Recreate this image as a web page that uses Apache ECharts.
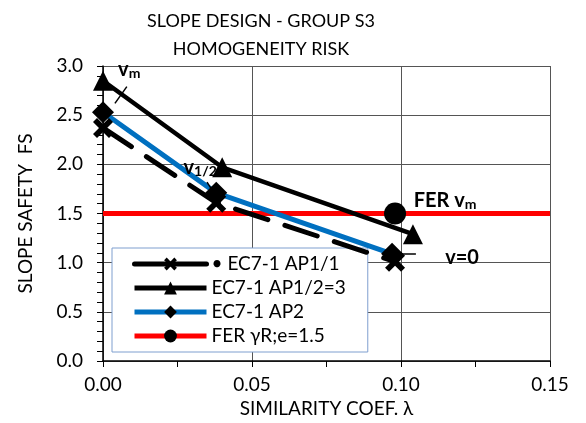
<!DOCTYPE html>
<html><head><meta charset="utf-8">
<script src="https://cdn.jsdelivr.net/npm/echarts@6/dist/echarts.min.js"></script>
<style>html,body{margin:0;padding:0;background:#fff}#c{width:586px;height:423px}</style>
</head><body><div id="c"></div>
<script>
var titleText = ['SLOPE DESIGN - GROUP S3', 'HOMOGENEITY RISK'];
var xName = 'SIMILARITY COEF. λ';
var yName = 'SLOPE SAFETY  FS';
var seriesNames = ['• EC7-1 AP1/1', 'EC7-1 AP1/2=3', 'EC7-1 AP2', 'FER γR;e=1.5'];
var ap11 = [[0, 2.37], [0.038, 1.61], [0.098, 1.01]];
var ap12 = [[0, 2.85], [0.040, 1.97], [0.104, 1.29]];
var ap2 = [[0, 2.53], [0.038, 1.71], [0.097, 1.09]];
var ferLine = [[0, 1.5], [0.098, 1.5], [0.15, 1.5]];
var ferMarkIndex = 1;
var xTicks = {min: 0, max: 0.15, interval: 0.05};
var yTicks = {min: 0, max: 3, interval: 0.5};
var labels = [
  {coord: [0.0088, 2.96], text: '{v|v}{s|m}'},
  {coord: [0.0326, 1.97], text: '{v|v}{s|1/2}'},
  {coord: [0.1148, 1.63], text: '{v|FER v}{s|m}'},
  {coord: [0.1205, 1.05], text: '{v|v=0}'}
];
var leaders = [
  [[0.004, 2.62], [0.008, 2.79]],
  [[0.0349, 1.82], [0.0372, 1.71]],
  [[0.099, 1.09], [0.105, 1.09]]
];

var FONT = 'Lato';
var crossPath = 'path://M2,0 L5,3 L8,0 L10,2 L7,5 L10,8 L8,10 L5,7 L2,10 L0,8 L3,5 L0,2 Z';
var chart = echarts.init(document.getElementById('c'));
chart.setOption({
  animation: false,
  textStyle: {fontFamily: FONT},
  title: {text: titleText.join('\n'), left: 256, top: 2, textAlign: 'center',
    textStyle: {fontFamily: FONT, fontSize: 18, fontWeight: 'normal', color: '#000', lineHeight: 28}},
  grid: {left: 103, right: 36, top: 66, bottom: 62},
  legend: {
    orient: 'vertical', left: 112, top: 248, width: 258,
    backgroundColor: '#fff', borderColor: '#7f9fcf', borderWidth: 1,
    padding: [6, 22, 6, 20], itemWidth: 72, itemHeight: 16, itemGap: 4,
    textStyle: {fontFamily: FONT, fontSize: 19, color: '#000', lineHeight: 20},
    data: [
      {name: seriesNames[0], lineStyle: {type: 'solid', width: 5}},
      {name: seriesNames[1], lineStyle: {width: 5}},
      {name: seriesNames[2], lineStyle: {width: 5}},
      {name: seriesNames[3], lineStyle: {width: 5}}
    ]
  },
  xAxis: {
    type: 'value', min: xTicks.min, max: xTicks.max, interval: xTicks.interval,
    name: xName, nameLocation: 'middle', nameGap: 37,
    nameTextStyle: {fontFamily: FONT, fontSize: 19, color: '#000'},
    axisLine: {lineStyle: {color: '#000', width: 1.5}},
    axisTick: {show: true, length: 6, lineStyle: {color: '#000'}},
    minorTick: {show: true, splitNumber: 2, length: 6, lineStyle: {color: '#000'}},
    axisLabel: {fontSize: 19, color: '#000', margin: 14, formatter: function (v) { return v.toFixed(2); }},
    splitLine: {show: true, lineStyle: {color: '#555', width: 1}}
  },
  yAxis: {
    type: 'value', min: yTicks.min, max: yTicks.max, interval: yTicks.interval,
    name: yName, nameLocation: 'middle', nameGap: 68, nameRotate: 90,
    nameTextStyle: {fontFamily: FONT, fontSize: 19, color: '#000'},
    axisLine: {show: true, lineStyle: {color: '#000', width: 1.5}},
    axisTick: {show: true, length: 6, lineStyle: {color: '#000'}},
    minorTick: {show: true, splitNumber: 5, length: 6, lineStyle: {color: '#000'}},
    axisLabel: {fontSize: 19, color: '#000', margin: 20, formatter: function (v) { return v.toFixed(1); }},
    splitLine: {show: true, lineStyle: {color: '#555', width: 1}}
  },
  series: [
    {name: seriesNames[3], type: 'line', data: ferLine.map(function (p, i) {
        return {value: p, symbolSize: i === ferMarkIndex ? 22 : 0};
      }),
      symbol: 'circle', symbolSize: 22, showAllSymbol: true, z: 3,
      lineStyle: {color: '#ff0000', width: 5}, itemStyle: {color: '#000'}, color: '#ff0000'},
    {name: seriesNames[2], type: 'line', data: ap2, symbol: 'diamond', symbolSize: 22,
      lineStyle: {color: '#0070c0', width: 5}, itemStyle: {color: '#000'}, z: 4},
    {name: seriesNames[1], type: 'line', data: ap12, symbol: 'triangle', symbolSize: 20,
      lineStyle: {color: '#000', width: 4.5}, itemStyle: {color: '#000'}, z: 4},
    {name: seriesNames[0], type: 'line', data: ap11, symbol: crossPath, symbolSize: 20,
      lineStyle: {color: '#000', width: 5, type: [34, 18], cap: 'round'}, itemStyle: {color: '#000'}, z: 4,
      markLine: {silent: true, symbol: 'none', animation: false,
        lineStyle: {color: '#000', width: 1.5, type: 'solid'}, label: {show: false},
        data: leaders.map(function (l) { return [{coord: l[0]}, {coord: l[1]}]; })},
      markPoint: {silent: true, symbol: 'circle', symbolSize: 0,
        data: labels.map(function (l) {
          return {coord: l.coord, label: {show: true, position: 'inside', formatter: l.text,
            rich: {v: {fontFamily: FONT, fontSize: 20, fontWeight: 'bold', color: '#000'},
                   s: {fontFamily: FONT, fontSize: 14, fontWeight: 'bold', color: '#000', verticalAlign: 'bottom', padding: [8, 0, 0, 0]}}}};
        })}
    }
  ]
});
</script></body></html>
